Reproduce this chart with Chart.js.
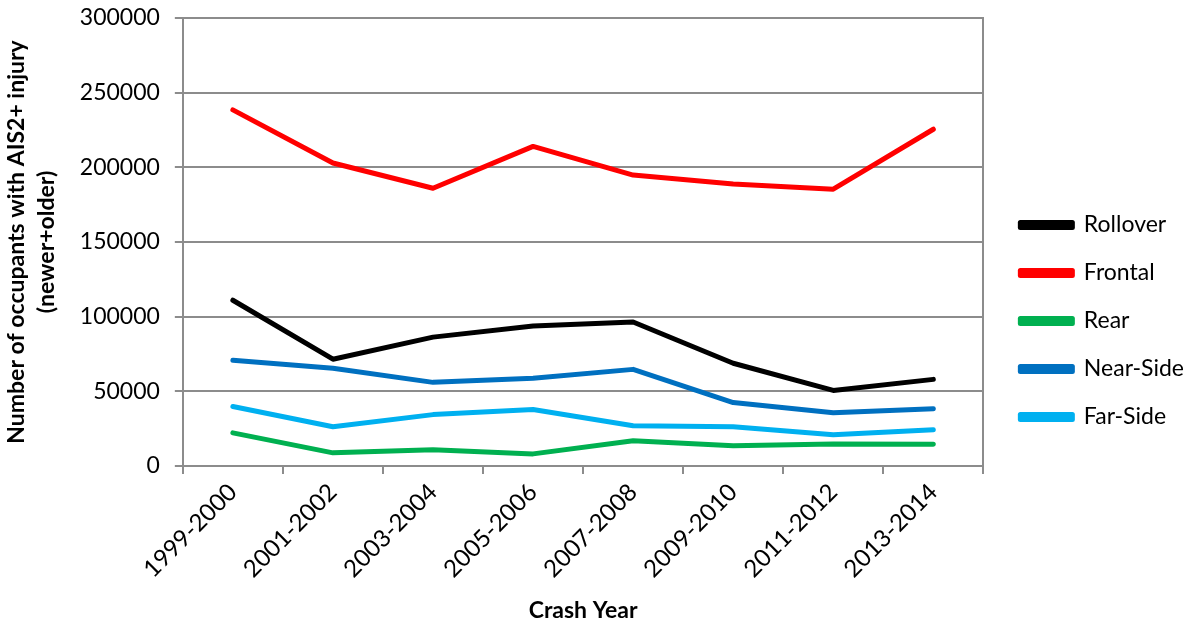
<!DOCTYPE html>
<html>
<head>
<meta charset="utf-8">
<script src="https://cdn.jsdelivr.net/npm/chart.js@4/dist/chart.umd.min.js"></script>
<style>
  body { margin: 0; background: #fff; }
  #wrap { width: 1196px; height: 626px; position: relative; }
</style>
</head>
<body>
<div id="wrap"><canvas id="result"></canvas></div>
<script>
// categories (crash years)
const crashYears = ['1999-2000', '2001-2002', '2003-2004', '2005-2006', '2007-2008', '2009-2010', '2011-2012', '2013-2014'];

// series values
const rollover = [111000, 71500, 86300, 93700, 96400, 68800, 50600, 58000];
const frontal  = [238500, 202900, 186000, 214000, 194800, 188800, 185400, 225500];
const rear     = [22200, 8800, 10800, 8100, 16900, 13500, 14800, 14500];
const nearSide = [70800, 65400, 56000, 58700, 64700, 42500, 35700, 38400];
const farSide  = [39800, 26300, 34400, 37800, 27000, 26300, 20900, 24300];

const seriesNames = ['Rollover', 'Frontal', 'Rear', 'Near-Side', 'Far-Side'];
const seriesColors = ['#000000', '#FF0000', '#00B050', '#0070C0', '#00B0F0'];

const yMin = 0, yMax = 300000, yStep = 50000;

const fontFamily = 'Lato, "Open Sans", sans-serif';
const gridColor = '#8c8c8c';

const allSeries = [rollover, frontal, rear, nearSide, farSide];

const datasets = allSeries.map((vals, i) => ({
    label: seriesNames[i],
    data: vals,
    borderColor: seriesColors[i],
    backgroundColor: seriesColors[i],
    borderWidth: 5,
    pointRadius: 0,
    tension: 0,
    borderJoinStyle: 'round',
    borderCapStyle: 'round',
    fill: false,
}));

const ctx = document.getElementById('result').getContext('2d');

var myChart = new Chart(ctx, {
    type: 'line',
    data: { labels: crashYears, datasets: datasets },
    options: {
        responsive: true,
        maintainAspectRatio: false,
        animation: false,
        layout: { padding: { top: 6, right: 2, bottom: 2, left: 2 } },
        plugins: {
            legend: {
                position: 'right',
                title: { display: true, text: ' ', font: { size: 10 }, padding: 0 },
                labels: {
                    boxWidth: 52,
                    boxHeight: 5,
                    padding: 25,
                    color: '#000',
                    font: { family: fontFamily, size: 23 },
                },
            },
            tooltip: { enabled: false },
        },
        scales: {
            x: {
                offset: true,
                grid: {
                    offset: true,
                    drawOnChartArea: false,
                    color: gridColor,
                    tickLength: 8,
                    lineWidth: 2,
                },
                border: { color: gridColor, width: 2 },
                ticks: {
                    maxRotation: 45,
                    minRotation: 45,
                    color: '#000',
                    padding: 4,
                    font: { family: fontFamily, size: 24 },
                },
                title: {
                    display: true,
                    text: 'Crash Year',
                    color: '#000',
                    font: { family: fontFamily, size: 23, weight: 'bold' },
                    padding: { top: 9, bottom: 0 },
                },
            },
            y: {
                min: yMin,
                max: yMax,
                ticks: {
                    stepSize: yStep,
                    color: '#000',
                    padding: 15,
                    font: { family: fontFamily, size: 23 },
                    callback: (v) => String(v),
                },
                grid: { color: gridColor, lineWidth: 2, tickLength: 8 },
                border: { color: gridColor, width: 2 },
                title: {
                    display: true,
                    text: ['Number of occupants with AIS2+ injury', '(newer+older)'],
                    color: '#000',
                    font: { family: fontFamily, size: 23, weight: 'bold', lineHeight: 1.3 },
                    padding: { top: 0, bottom: 3 },
                },
                afterFit: (scale) => { scale.paddingTop = 18; },
            },
            y2: {
                position: 'right',
                min: yMin,
                max: yMax,
                ticks: { display: false },
                grid: { drawOnChartArea: false, drawTicks: false },
                border: { color: gridColor, width: 2 },
                afterFit: (scale) => { scale.width = 12; },
            },
        },
    },
});
</script>
</body>
</html>
